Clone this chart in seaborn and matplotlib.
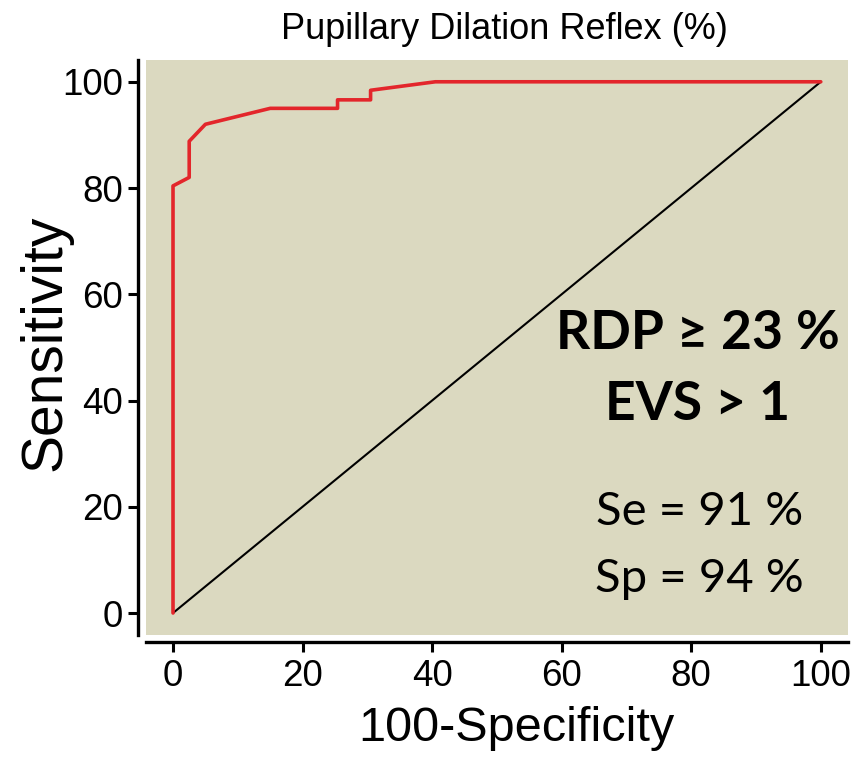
import matplotlib
matplotlib.use("Agg")
import matplotlib.pyplot as plt
import seaborn as sns
import pandas as pd

# ROC curve (100-Specificity, Sensitivity)
fpr = [0, 0, 2.5, 2.5, 5, 15, 25.4, 25.4, 30.5, 30.5, 40.5, 100]
tpr = [0, 80.4, 82, 88.8, 92, 95, 95, 96.6, 96.6, 98.4, 100, 100]
diag_x = [0, 100]
diag_y = [0, 100]
ticks = [0, 20, 40, 60, 80, 100]

title = "Pupillary Dilation Reflex (%)"
xlabel = "100-Specificity"
ylabel = "Sensitivity"
bold_lines = ["RDP \u2265 23 %", "EVS > 1"]
plain_lines = ["Se = 91 %", "Sp = 94 %"]

sns.set_theme(style="ticks")
narrow = ["Liberation Sans", "DejaVu Sans"]
plt.rcParams["font.family"] = narrow
plt.rcParams["text.color"] = "black"
plt.rcParams["axes.labelcolor"] = "black"
plt.rcParams["xtick.color"] = "black"
plt.rcParams["ytick.color"] = "black"

W, H = 863, 763
fig = plt.figure(figsize=(W / 100, H / 100), dpi=100)
ax = fig.add_axes([146 / W, 1 - 635 / H, (848 - 146) / W, (635 - 60) / H])
ax.set_facecolor("#dbd9c0")

roc = pd.DataFrame({"fpr": fpr, "tpr": tpr})
diag = pd.DataFrame({"x": diag_x, "y": diag_y})
sns.lineplot(data=diag, x="x", y="y", ax=ax, color="black", lw=1.5,
             sort=False, estimator=None)
sns.lineplot(data=roc, x="fpr", y="tpr", ax=ax, color="#e3262b", lw=2.6,
             sort=False, estimator=None)

ax.set_xlim(-4.17, 104.2)
ax.set_ylim(-4.14, 104.1)
ax.set_xticks(ticks)
ax.set_yticks(ticks)
ax.set_xticklabels([str(t) for t in ticks])
ax.set_yticklabels([str(t) for t in ticks])
ax.tick_params(axis="both", length=7, width=2.2, color="black",
               labelsize=26.5, labelcolor="black")
ax.tick_params(axis="x", pad=5)
ax.tick_params(axis="y", pad=3.5)

for s in ["top", "right"]:
    ax.spines[s].set_visible(False)
for s in ["left", "bottom"]:
    ax.spines[s].set_linewidth(2.4)
    ax.spines[s].set_color("black")
ax.spines["left"].set_position(("outward", 6))
ax.spines["bottom"].set_position(("outward", 5))

ax.set_xlabel(xlabel, fontsize=35)
ax.set_ylabel(ylabel, fontsize=41)
ax.xaxis.set_label_coords(0.527, -0.1235)
ax.yaxis.set_label_coords(-0.105, 0.508)
ax.set_title(title, fontsize=26, pad=15, x=0.51)

txt_font = ["Lato", "DejaVu Sans"]
ax.text(81, 49.7, bold_lines[0], ha="center", va="baseline",
        fontsize=38.5, fontweight="bold", family=txt_font, color="black")
ax.text(81, 36.3, bold_lines[1], ha="center", va="baseline",
        fontsize=38.5, fontweight="bold", family=txt_font, color="black")
ax.text(81.3, 16.6, plain_lines[0], ha="center", va="baseline",
        fontsize=34, family=txt_font, color="black")
ax.text(81.3, 3.95, plain_lines[1], ha="center", va="baseline",
        fontsize=34, family=txt_font, color="black")

fig.savefig("out.png", dpi=100)
